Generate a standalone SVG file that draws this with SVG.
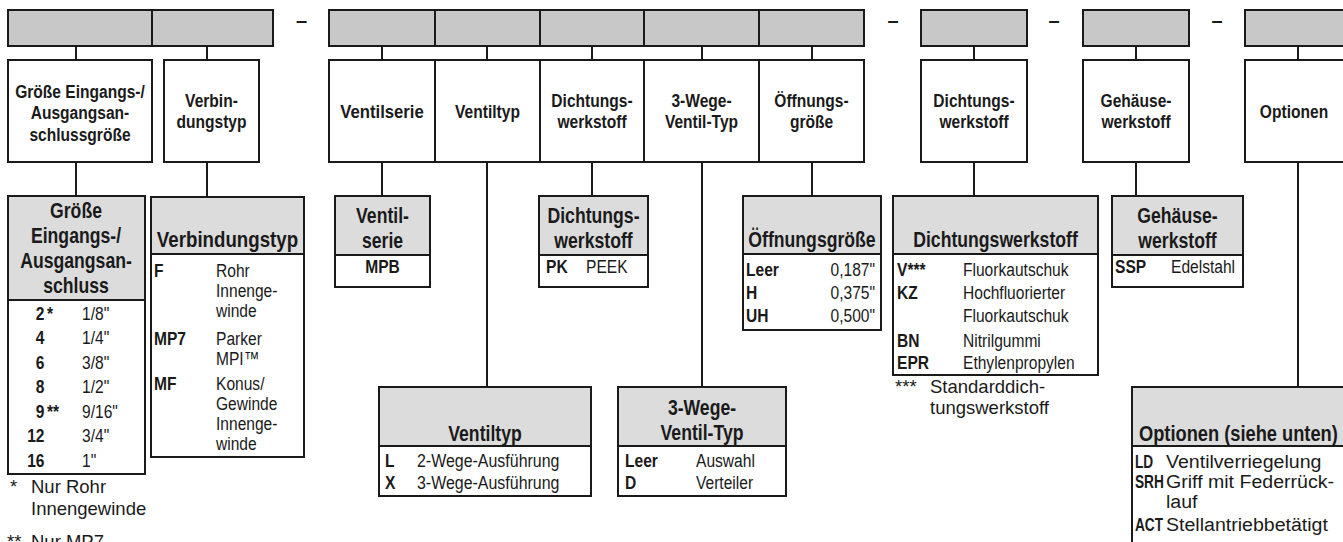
<svg xmlns="http://www.w3.org/2000/svg" width="1343" height="542" viewBox="0 0 1343 542">
<defs>
<style>
.bar{fill:#c8c8c8;stroke:#1a1a1a;stroke-width:2}
.box{fill:#ffffff;stroke:#1a1a1a;stroke-width:2}
.lhd{fill:#dcdcdc;stroke:#1a1a1a;stroke-width:2}
.con line{stroke:#1a1a1a;stroke-width:2}
text{fill:#1a1a1a}
.h2{font-family:"Liberation Sans",Arial,sans-serif;font-weight:bold;font-size:19px;text-anchor:middle}
.lh{font-family:"Liberation Sans",Arial,sans-serif;font-weight:bold;font-size:21.5px;text-anchor:middle}
.cd{font-family:"Liberation Sans",Arial,sans-serif;font-weight:bold;font-size:19px}
.tx{font-family:"Liberation Sans",Arial,sans-serif;font-size:19px}
.fn{font-family:"Liberation Sans",Arial,sans-serif;font-size:18.5px}
.dash{font-family:"Liberation Sans",Arial,sans-serif;font-weight:bold;font-size:20px;text-anchor:middle}
.e{text-anchor:end}
.m{text-anchor:middle}
.s{text-anchor:start}
</style>
</defs>
<rect width="1343" height="542" fill="#ffffff"/>

<g id="code-bar">
<rect class="bar" x="8" y="10" width="144" height="36"/>
<rect class="bar" x="152" y="10" width="121" height="36"/>
<text class="dash" x="301.5" y="27">–</text>
<rect class="bar" x="329" y="10" width="106" height="36"/>
<rect class="bar" x="435" y="10" width="105" height="36"/>
<rect class="bar" x="540" y="10" width="104" height="36"/>
<rect class="bar" x="644" y="10" width="115" height="36"/>
<rect class="bar" x="759" y="10" width="105" height="36"/>
<text class="dash" x="893" y="27">–</text>
<rect class="bar" x="921" y="10" width="106" height="36"/>
<text class="dash" x="1054" y="27">–</text>
<rect class="bar" x="1083" y="10" width="106" height="36"/>
<text class="dash" x="1217" y="27">–</text>
<rect class="bar" x="1245" y="10" width="140" height="36"/>
</g>

<g id="connectors" class="con">
<line x1="76" y1="46" x2="76" y2="60"/>
<line x1="207" y1="46" x2="207" y2="60"/>
<line x1="382" y1="46" x2="382" y2="60"/>
<line x1="487" y1="46" x2="487" y2="60"/>
<line x1="592" y1="46" x2="592" y2="60"/>
<line x1="702" y1="46" x2="702" y2="60"/>
<line x1="812" y1="46" x2="812" y2="60"/>
<line x1="974" y1="46" x2="974" y2="60"/>
<line x1="1136" y1="46" x2="1136" y2="60"/>
<line x1="1298" y1="46" x2="1298" y2="60"/>
<line x1="76" y1="162" x2="76" y2="196"/>
<line x1="207" y1="162" x2="207" y2="197"/>
<line x1="382" y1="162" x2="382" y2="196"/>
<line x1="487" y1="162" x2="487" y2="387"/>
<line x1="592" y1="162" x2="592" y2="196"/>
<line x1="702" y1="162" x2="702" y2="387"/>
<line x1="812" y1="162" x2="812" y2="196"/>
<line x1="974" y1="162" x2="974" y2="196"/>
<line x1="1136" y1="162" x2="1136" y2="196"/>
<line x1="1298" y1="162" x2="1298" y2="387"/>
</g>

<g id="field-port-size">
<rect class="box" x="8" y="60" width="144" height="102"/>
<g transform="translate(80 0) scale(.82 1)">
<text class="h2" y="98">Größe Eingangs-/</text>
<text class="h2" y="119.5">Ausgangsan-</text>
<text class="h2" y="141">schlussgröße</text>
</g>
</g>
<g id="field-connection">
<rect class="box" x="164" y="60" width="95" height="102"/>
<g transform="translate(211.5 0) scale(.82 1)">
<text class="h2" y="107">Verbin-</text>
<text class="h2" y="128">dungstyp</text>
</g>
</g>
<g id="field-series">
<rect class="box" x="329" y="60" width="106" height="102"/>
<text class="h2" transform="translate(382 0) scale(.88 1)" y="118">Ventilserie</text>
</g>
<g id="field-valve-type">
<rect class="box" x="435" y="60" width="105" height="102"/>
<text class="h2" transform="translate(487.5 0) scale(.82 1)" y="118">Ventiltyp</text>
</g>
<g id="field-seal-1">
<rect class="box" x="540" y="60" width="104" height="102"/>
<g transform="translate(592 0) scale(.82 1)">
<text class="h2" y="107">Dichtungs-</text>
<text class="h2" y="128">werkstoff</text>
</g>
</g>
<g id="field-3way">
<rect class="box" x="644" y="60" width="115" height="102"/>
<g transform="translate(701.5 0) scale(.82 1)">
<text class="h2" y="107">3-Wege-</text>
<text class="h2" y="128">Ventil-Typ</text>
</g>
</g>
<g id="field-orifice">
<rect class="box" x="759" y="60" width="105" height="102"/>
<g transform="translate(811.5 0) scale(.82 1)">
<text class="h2" y="107">Öffnungs-</text>
<text class="h2" y="128">größe</text>
</g>
</g>
<g id="field-seal-2">
<rect class="box" x="921" y="60" width="106" height="102"/>
<g transform="translate(974 0) scale(.82 1)">
<text class="h2" y="107">Dichtungs-</text>
<text class="h2" y="128">werkstoff</text>
</g>
</g>
<g id="field-body">
<rect class="box" x="1083" y="60" width="106" height="102"/>
<g transform="translate(1136 0) scale(.82 1)">
<text class="h2" y="107">Gehäuse-</text>
<text class="h2" y="128">werkstoff</text>
</g>
</g>
<g id="field-options">
<rect class="box" x="1245" y="60" width="140" height="102"/>
<text class="h2" transform="translate(1294 0) scale(.82 1)" y="118">Optionen</text>
</g>

<g id="legend-port-size">
<rect class="box" x="8" y="196" width="137" height="278"/>
<rect class="lhd" x="8" y="196" width="137" height="104"/>
<g transform="translate(76 0) scale(.82 1)">
<text class="lh" y="218">Größe</text>
<text class="lh" y="243">Eingangs-/</text>
<text class="lh" y="268">Ausgangsan-</text>
<text class="lh" y="293">schluss</text>
</g>
<g transform="translate(44.5 0) scale(.82 1)">
<text class="cd e" y="320">2</text>
<text class="cd e" y="344.5">4</text>
<text class="cd e" y="369">6</text>
<text class="cd e" y="393.5">8</text>
<text class="cd e" y="418">9</text>
<text class="cd e" y="442.5">12</text>
<text class="cd e" y="467">16</text>
</g>
<g transform="translate(47 0) scale(.82 1)">
<text class="cd" y="320">*</text>
<text class="cd" y="418">**</text>
</g>
<g transform="translate(82 0) scale(.82 1)">
<text class="tx" y="320">1/8"</text>
<text class="tx" y="344.5">1/4"</text>
<text class="tx" y="369">3/8"</text>
<text class="tx" y="393.5">1/2"</text>
<text class="tx" y="418">9/16"</text>
<text class="tx" y="442.5">3/4"</text>
<text class="tx" y="467">1"</text>
</g>
</g>
<g id="note-port-size">
<text class="fn" x="10" y="493">*</text>
<text class="fn" x="31" y="493">Nur Rohr</text>
<text class="fn" x="31" y="515">Innengewinde</text>
<text class="fn" x="7" y="548">**</text>
<text class="fn" x="31" y="548">Nur MP7</text>
</g>

<g id="legend-connection">
<rect class="box" x="151" y="197" width="153" height="260"/>
<rect class="lhd" x="151" y="197" width="153" height="57"/>
<text class="lh" transform="translate(227.5 0) scale(.87 1)" y="247">Verbindungstyp</text>
<g transform="translate(154 0) scale(.82 1)">
<text class="cd" y="277">F</text>
<text class="cd" y="345">MP7</text>
<text class="cd" y="390">MF</text>
</g>
<g transform="translate(216 0) scale(.82 1)">
<text class="tx" y="277">Rohr</text>
<text class="tx" y="297">Innenge-</text>
<text class="tx" y="317">winde</text>
<text class="tx" y="345">Parker</text>
<text class="tx" y="365">MPI™</text>
<text class="tx" y="390">Konus/</text>
<text class="tx" y="410">Gewinde</text>
<text class="tx" y="430">Innenge-</text>
<text class="tx" y="450">winde</text>
</g>
</g>

<g id="legend-series">
<rect class="box" x="335" y="196" width="95" height="91"/>
<rect class="lhd" x="335" y="196" width="95" height="59"/>
<g transform="translate(382.5 0) scale(.82 1)">
<text class="lh" y="223">Ventil-</text>
<text class="lh" y="248">serie</text>
<text class="cd m" y="273">MPB</text>
</g>
</g>

<g id="legend-seal-1">
<rect class="box" x="539" y="196" width="109" height="91"/>
<rect class="lhd" x="539" y="196" width="109" height="59"/>
<g transform="translate(593.5 0) scale(.82 1)">
<text class="lh" y="223">Dichtungs-</text>
<text class="lh" y="248">werkstoff</text>
</g>
<text class="cd" transform="translate(546 0) scale(.82 1)" y="273">PK</text>
<text class="tx" transform="translate(586 0) scale(.82 1)" y="273">PEEK</text>
</g>

<g id="legend-orifice">
<rect class="box" x="743" y="196" width="138" height="134"/>
<rect class="lhd" x="743" y="196" width="138" height="58"/>
<text class="lh" transform="translate(812 0) scale(.82 1)" y="247">Öffnungsgröße</text>
<g transform="translate(746 0) scale(.82 1)">
<text class="cd" y="276">Leer</text>
<text class="cd" y="299">H</text>
<text class="cd" y="322">UH</text>
</g>
<g transform="translate(875 0) scale(.82 1)">
<text class="tx e" y="276">0,187"</text>
<text class="tx e" y="299">0,375"</text>
<text class="tx e" y="322">0,500"</text>
</g>
</g>

<g id="legend-seal-2">
<rect class="box" x="893" y="196" width="205" height="179"/>
<rect class="lhd" x="893" y="196" width="205" height="58"/>
<text class="lh" transform="translate(995.5 0) scale(.82 1)" y="247">Dichtungswerkstoff</text>
<g transform="translate(897 0) scale(.82 1)">
<text class="cd" y="276">V***</text>
<text class="cd" y="299">KZ</text>
<text class="cd" y="347">BN</text>
<text class="cd" y="369">EPR</text>
</g>
<g transform="translate(963 0) scale(.82 1)">
<text class="tx" y="276">Fluorkautschuk</text>
<text class="tx" y="299">Hochfluorierter</text>
<text class="tx" y="322">Fluorkautschuk</text>
<text class="tx" y="347">Nitrilgummi</text>
<text class="tx" y="369">Ethylenpropylen</text>
</g>
</g>
<g id="note-seal-2">
<text class="fn" x="895" y="393">***</text>
<text class="fn" x="930" y="393">Standarddich-</text>
<text class="fn" x="930" y="414">tungswerkstoff</text>
</g>

<g id="legend-body">
<rect class="box" x="1112" y="196" width="131" height="91"/>
<rect class="lhd" x="1112" y="196" width="131" height="59"/>
<g transform="translate(1177.5 0) scale(.82 1)">
<text class="lh" y="223">Gehäuse-</text>
<text class="lh" y="248">werkstoff</text>
</g>
<text class="cd" transform="translate(1115 0) scale(.82 1)" y="273">SSP</text>
<text class="tx" transform="translate(1171 0) scale(.82 1)" y="273">Edelstahl</text>
</g>

<g id="legend-valve-type">
<rect class="box" x="379" y="387" width="212" height="109"/>
<rect class="lhd" x="379" y="387" width="212" height="59"/>
<text class="lh" transform="translate(485 0) scale(.82 1)" y="441">Ventiltyp</text>
<g transform="translate(385 0) scale(.82 1)">
<text class="cd" y="467">L</text>
<text class="cd" y="489">X</text>
</g>
<g transform="translate(417 0) scale(.84 1)">
<text class="tx" y="467">2-Wege-Ausführung</text>
<text class="tx" y="489">3-Wege-Ausführung</text>
</g>
</g>

<g id="legend-3way">
<rect class="box" x="618" y="387" width="168" height="109"/>
<rect class="lhd" x="618" y="387" width="168" height="59"/>
<g transform="translate(702 0) scale(.82 1)">
<text class="lh" y="415">3-Wege-</text>
<text class="lh" y="440">Ventil-Typ</text>
</g>
<g transform="translate(625 0) scale(.82 1)">
<text class="cd" y="467">Leer</text>
<text class="cd" y="489">D</text>
</g>
<g transform="translate(696 0) scale(.82 1)">
<text class="tx" y="467">Auswahl</text>
<text class="tx" y="489">Verteiler</text>
</g>
</g>

<g id="legend-options">
<rect class="box" x="1132" y="387" width="250" height="180"/>
<rect class="lhd" x="1132" y="387" width="250" height="59"/>
<text class="lh s" transform="translate(1139 0) scale(.85 1)" y="441">Optionen (siehe unten)</text>
<g transform="translate(1135 0) scale(.72 1)">
<text class="cd" y="468">LD</text>
<text class="cd" y="488">SRH</text>
<text class="cd" y="531">ACT</text>
</g>
<g transform="translate(1166 0) scale(1.03 1)">
<text class="tx" y="468">Ventilverriegelung</text>
<text class="tx" y="488">Griff mit Federrück-</text>
<text class="tx" y="508">lauf</text>
<text class="tx" y="531">Stellantriebbetätigt</text>
</g>
</g>
</svg>
